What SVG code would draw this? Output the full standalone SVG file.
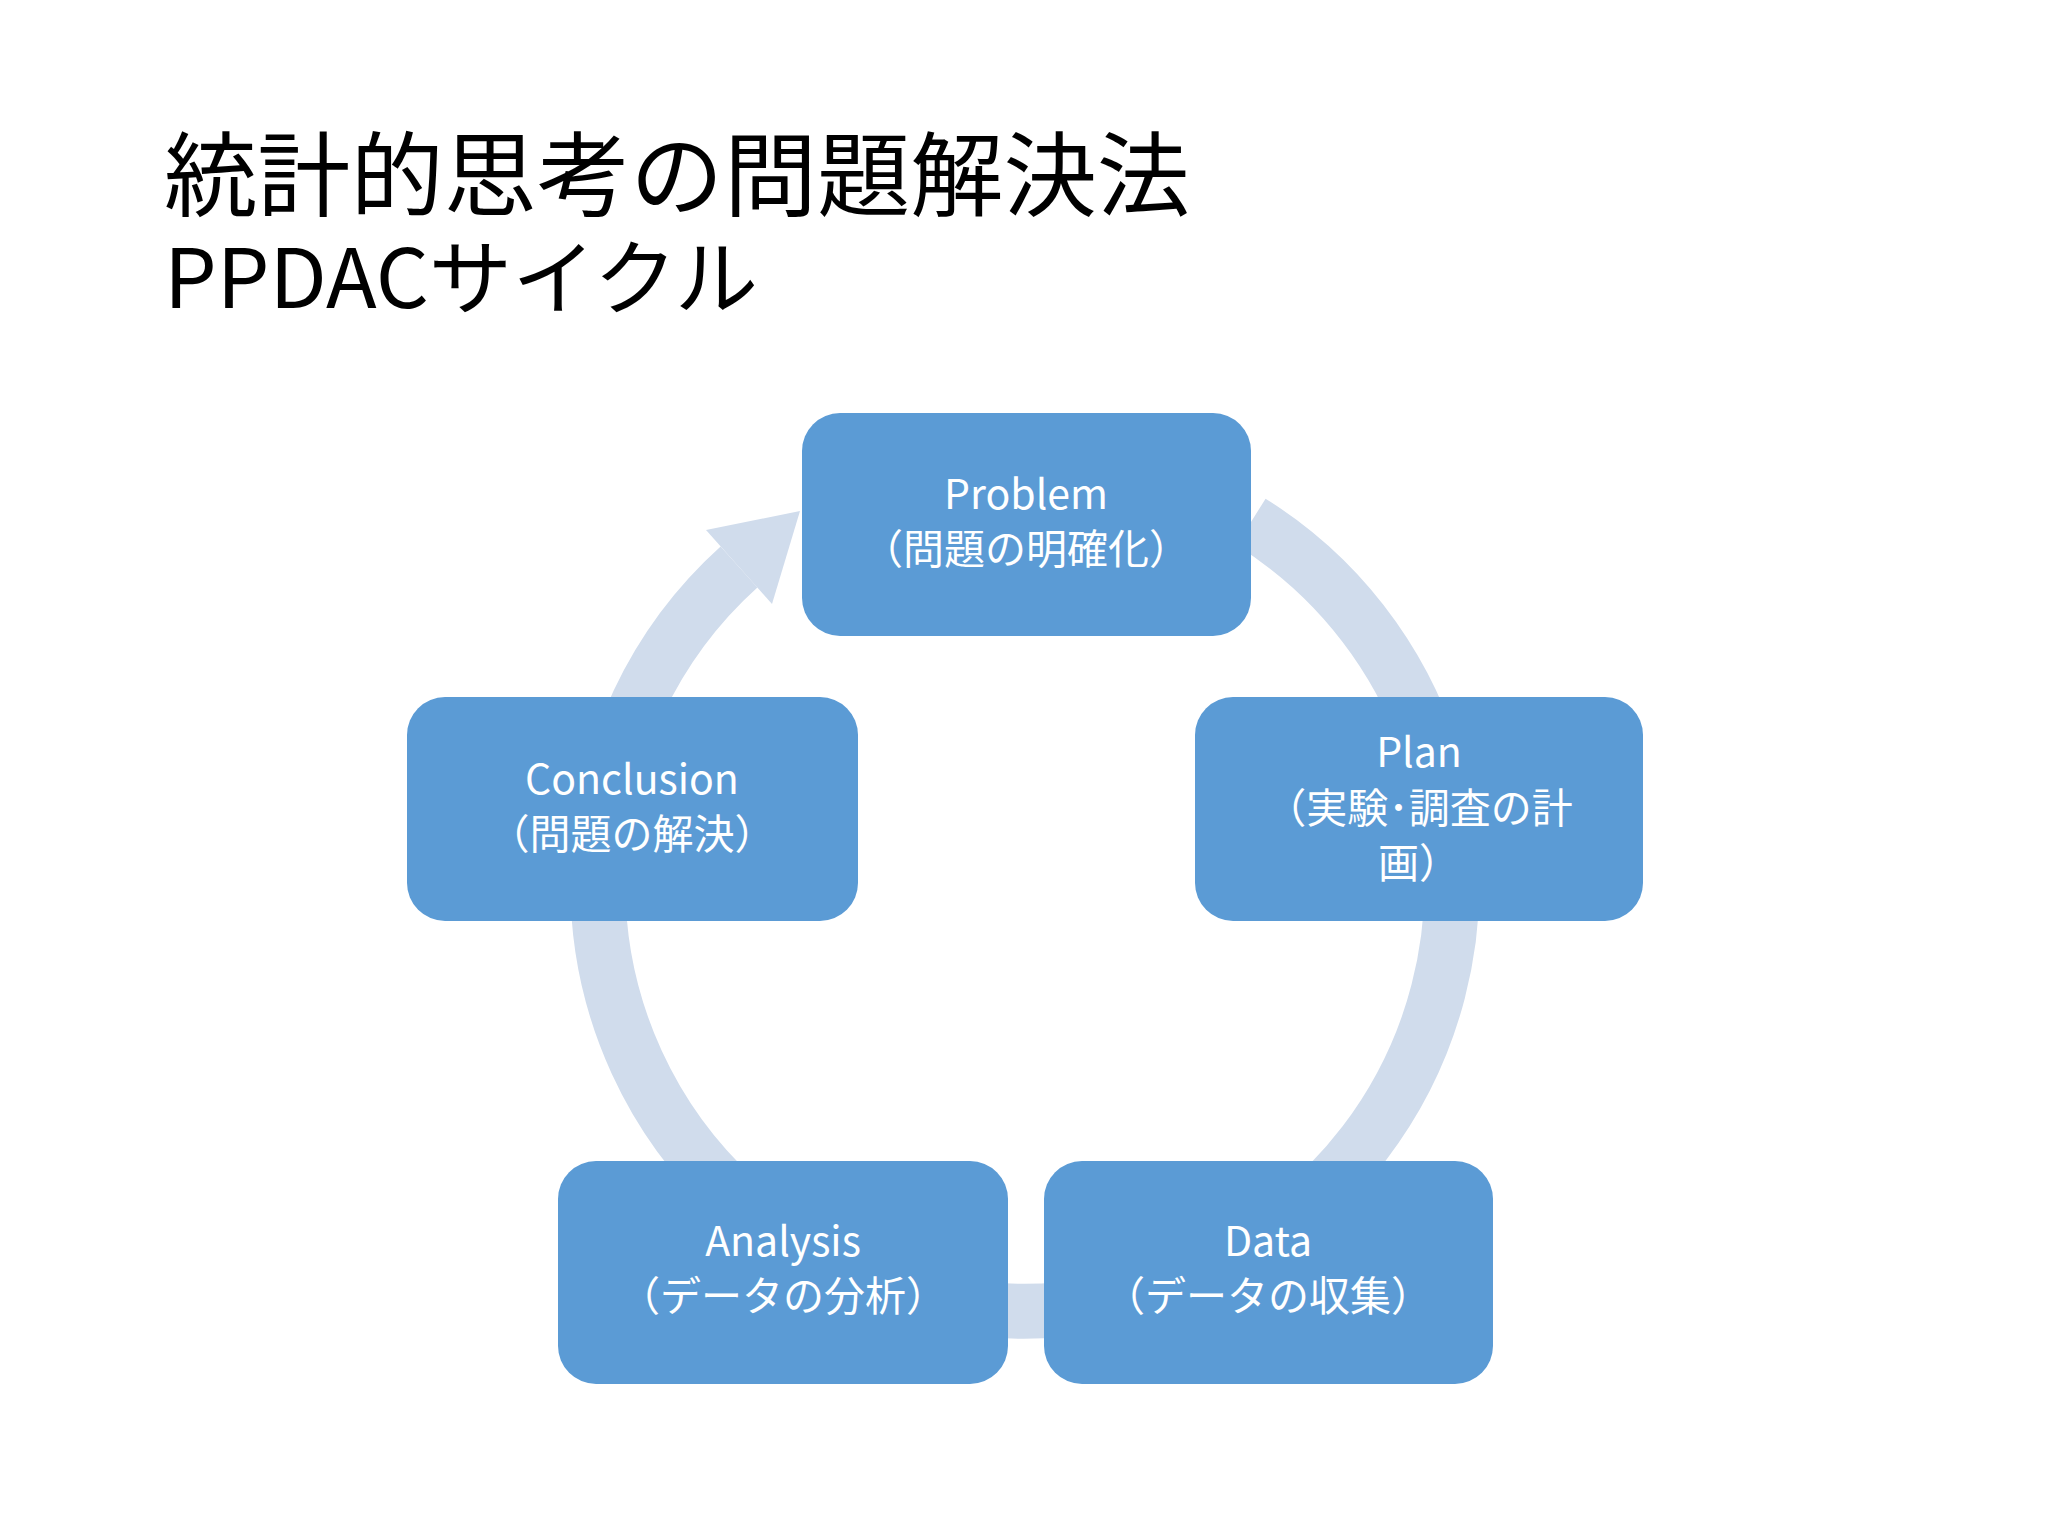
<svg xmlns="http://www.w3.org/2000/svg" width="2048" height="1536" viewBox="0 0 2048 1536">
<style>
.t{font-family:"Noto Sans CJK JP","Noto Sans",sans-serif;fill:#000}
.b{fill:#5b9bd5}
.l{font-family:"Noto Sans CJK JP","Noto Sans",sans-serif;fill:#fff;font-size:41px;text-anchor:middle}
</style>
<rect width="2048" height="1536" fill="#fff"/>
<text class="t" x="164" y="209" font-size="92" textLength="1026" lengthAdjust="spacingAndGlyphs">統計的思考の問題解決法</text>
<text class="t" x="164" y="308" font-size="82" textLength="594" lengthAdjust="spacingAndGlyphs">PPDACサイクル</text>
<g id="connectors">
<path d="M1251,522 A427,427 0 1 1 739,567" fill="none" stroke="#d0dcec" stroke-width="55"/>
<polygon points="772,604 706,530 800,511" fill="#d0dcec"/>
</g>
<g id="problem"><rect class="b" x="802" y="413" width="449" height="223" rx="38"/>
<text class="l" x="1026" y="509">Problem</text><text class="l" x="1026" y="564">（問題の明確化）</text></g>
<g id="plan"><rect class="b" x="1195" y="697" width="448" height="224" rx="38"/>
<text class="l" x="1419" y="767">Plan</text><text class="l" x="1419" y="823">（実験･調査の計</text><text class="l" x="1419" y="878">画）</text></g>
<g id="data"><rect class="b" x="1044" y="1161" width="449" height="223" rx="38"/>
<text class="l" x="1268" y="1256">Data</text><text class="l" x="1268" y="1311">（データの収集）</text></g>
<g id="analysis"><rect class="b" x="558" y="1161" width="450" height="223" rx="38"/>
<text class="l" x="783" y="1256">Analysis</text><text class="l" x="783" y="1311">（データの分析）</text></g>
<g id="conclusion"><rect class="b" x="407" y="697" width="451" height="224" rx="38"/>
<text class="l" x="632" y="794">Conclusion</text><text class="l" x="632" y="849">（問題の解決）</text></g>
</svg>
